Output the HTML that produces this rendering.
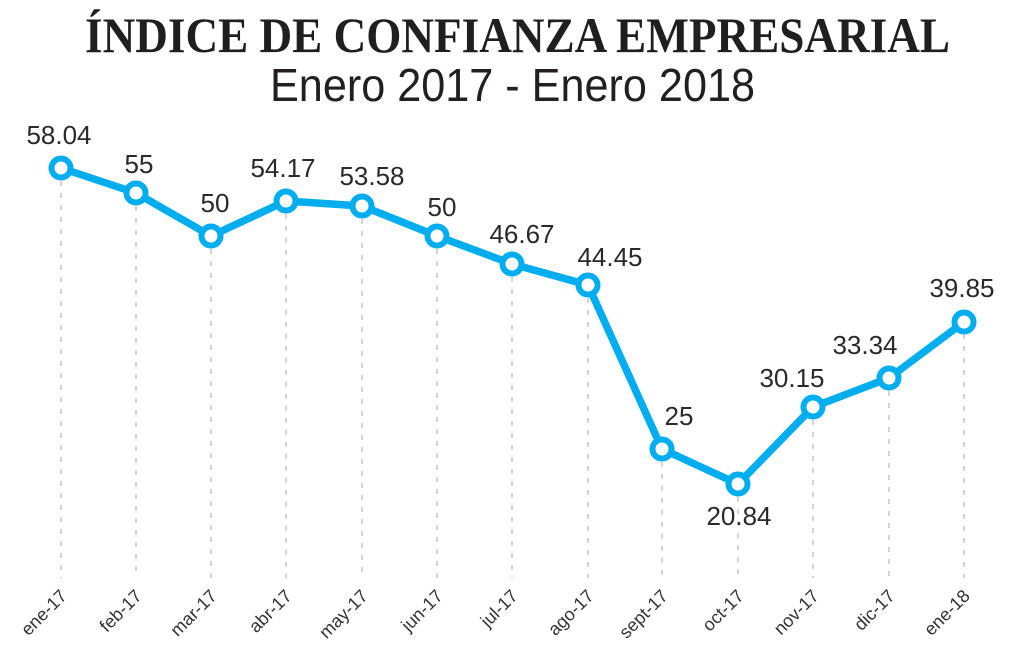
<!DOCTYPE html>
<html>
<head>
<meta charset="utf-8">
<style>
  html, body { margin: 0; padding: 0; background: #ffffff; }
  svg { display: block; }
</style>
</head>
<body>
<svg width="1025" height="651" viewBox="0 0 1025 651" xmlns="http://www.w3.org/2000/svg">
  <rect width="1025" height="651" fill="#ffffff"/>

  <!-- Titles -->
  <text x="85" y="52" font-family="'Liberation Serif', serif" font-weight="bold" font-size="50" fill="#1f1f1f" textLength="865" lengthAdjust="spacingAndGlyphs">ÍNDICE DE CONFIANZA EMPRESARIAL</text>
  <text x="270" y="101" font-family="'Liberation Sans', sans-serif" font-size="46" fill="#231f20" textLength="485" lengthAdjust="spacingAndGlyphs">Enero 2017 - Enero 2018</text>

  <!-- Dashed guide lines -->
  <g stroke="#b8b8b8" stroke-width="1.2" stroke-dasharray="5,7" fill="none">
    <line x1="61" y1="181" x2="61" y2="578"/>
    <line x1="136" y1="206" x2="136" y2="578"/>
    <line x1="211" y1="249" x2="211" y2="578"/>
    <line x1="286" y1="214" x2="286" y2="578"/>
    <line x1="362" y1="219" x2="362" y2="578"/>
    <line x1="437" y1="249" x2="437" y2="578"/>
    <line x1="512" y1="277" x2="512" y2="578"/>
    <line x1="588" y1="298" x2="588" y2="578"/>
    <line x1="662" y1="462" x2="662" y2="578"/>
    <line x1="738" y1="497" x2="738" y2="578"/>
    <line x1="813" y1="420" x2="813" y2="578"/>
    <line x1="889" y1="391" x2="889" y2="578"/>
    <line x1="964" y1="334" x2="964" y2="578"/>
  </g>

  <!-- Series line -->
  <polyline fill="none" stroke="#00aeef" stroke-width="7.5" stroke-linejoin="round" stroke-linecap="round"
    points="61,168 136,193 211,236 286,201 362,206 437,236 512,264 588,285 662,449 738,484 813,407 889,378 964,322"/>

  <!-- Markers -->
  <g fill="#ffffff" stroke="#00aeef" stroke-width="6">
    <circle cx="61" cy="168" r="9.5"/>
    <circle cx="136" cy="193" r="9.5"/>
    <circle cx="211" cy="236" r="9.5"/>
    <circle cx="286" cy="201" r="9.5"/>
    <circle cx="362" cy="206" r="9.5"/>
    <circle cx="437" cy="236" r="9.5"/>
    <circle cx="512" cy="264" r="9.5"/>
    <circle cx="588" cy="285" r="9.5"/>
    <circle cx="662" cy="449" r="9.5"/>
    <circle cx="738" cy="484" r="9.5"/>
    <circle cx="813" cy="407" r="9.5"/>
    <circle cx="889" cy="378" r="9.5"/>
    <circle cx="964" cy="322" r="9.5"/>
  </g>

  <!-- Value labels -->
  <g font-family="'Liberation Sans', sans-serif" font-size="26" fill="#2a2a2a" text-anchor="middle">
    <text x="59" y="144">58.04</text>
    <text x="139" y="173">55</text>
    <text x="215" y="212">50</text>
    <text x="283" y="177">54.17</text>
    <text x="372" y="185">53.58</text>
    <text x="442" y="216">50</text>
    <text x="522" y="243">46.67</text>
    <text x="610" y="266">44.45</text>
    <text x="679" y="425">25</text>
    <text x="739" y="525">20.84</text>
    <text x="792" y="387">30.15</text>
    <text x="865" y="354">33.34</text>
    <text x="962" y="297">39.85</text>
  </g>

  <!-- X-axis labels -->
  <g font-family="'Liberation Sans', sans-serif" font-size="18" fill="#333333" text-anchor="end">
    <text transform="translate(68,597) rotate(-45)">ene-17</text>
    <text transform="translate(143,597) rotate(-45)">feb-17</text>
    <text transform="translate(218,597) rotate(-45)">mar-17</text>
    <text transform="translate(293,597) rotate(-45)">abr-17</text>
    <text transform="translate(369,597) rotate(-45)">may-17</text>
    <text transform="translate(444,597) rotate(-45)">jun-17</text>
    <text transform="translate(519,597) rotate(-45)">jul-17</text>
    <text transform="translate(595,597) rotate(-45)">ago-17</text>
    <text transform="translate(669,597) rotate(-45)">sept-17</text>
    <text transform="translate(745,597) rotate(-45)">oct-17</text>
    <text transform="translate(820,597) rotate(-45)">nov-17</text>
    <text transform="translate(896,597) rotate(-45)">dic-17</text>
    <text transform="translate(971,597) rotate(-45)">ene-18</text>
  </g>
</svg>
</body>
</html>
